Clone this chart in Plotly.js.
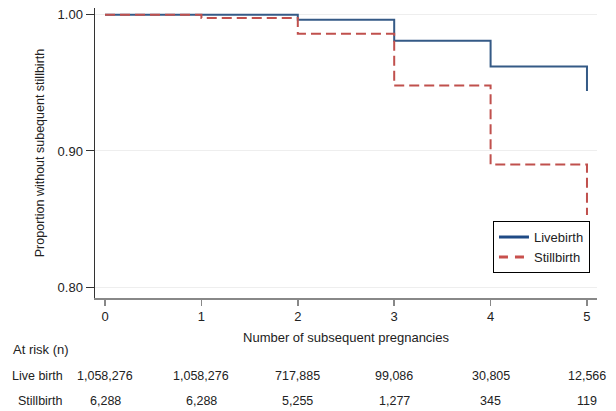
<!DOCTYPE html>
<html>
<head>
<meta charset="utf-8">
<script src="https://cdn.plot.ly/plotly-3.0.1.min.js"></script>
<style>html,body{margin:0;padding:0;background:#fff;}#chart{width:616px;height:411px;}</style>
</head>
<body>
<div id="chart"></div>
<script>
var pregnancies = [0, 1, 2, 3, 4, 5];
var liveBirthSurv = [1.000, 1.000, 0.9963, 0.981, 0.962, 0.944];
var stillBirthSurv = [1.000, 0.9976, 0.986, 0.948, 0.890, 0.853];
var atRiskLive = ["1,058,276", "1,058,276", "717,885", "99,086", "30,805", "12,566"];
var atRiskStill = ["6,288", "6,288", "5,255", "1,277", "345", "119"];
var yTicks = [0.80, 0.90, 1.00];
var yTickLabels = ["0.80", "0.90", "1.00"];

var font = "Liberation Sans, Arial, sans-serif";
var blue = "#355a86", red = "#c0504d";
var traces = [
  {x: pregnancies, y: liveBirthSurv, name: "Livebirth", mode: "lines", showlegend: false,
   line: {shape: "hv", color: blue, width: 2}},
  {x: pregnancies, y: stillBirthSurv, name: "Stillbirth", mode: "lines", showlegend: false,
   line: {shape: "hv", color: red, width: 2, dash: "10px,5px"}},
  {x: [null], y: [null], name: "Livebirth", mode: "lines", line: {color: "#1f4a85", width: 3}},
  {x: [null], y: [null], name: "Stillbirth", mode: "lines", line: {color: "#c8504d", width: 3, dash: "9px,7px"}}
];

var annotations = [
  {text: "At risk (n)", xref: "paper", yref: "paper", x: -0.167, y: -0.179, xanchor: "left", yanchor: "middle", showarrow: false, font: {size: 13, color: "#222", family: font}},
  {text: "Live birth", xref: "paper", yref: "paper", x: -0.060, y: -0.269, xanchor: "right", yanchor: "middle", showarrow: false, font: {size: 12.5, color: "#222", family: font}},
  {text: "Stillbirth", xref: "paper", yref: "paper", x: -0.060, y: -0.355, xanchor: "right", yanchor: "middle", showarrow: false, font: {size: 12.5, color: "#222", family: font}}
];
pregnancies.forEach(function (p, i) {
  annotations.push({text: atRiskLive[i], xref: "x", yref: "paper", x: p, y: -0.269, xanchor: "center", yanchor: "middle", showarrow: false, font: {size: 12.5, color: "#222", family: font}});
  annotations.push({text: atRiskStill[i], xref: "x", yref: "paper", x: p, y: -0.355, xanchor: "center", yanchor: "middle", showarrow: false, font: {size: 12.5, color: "#222", family: font}});
});

var layout = {
  width: 616, height: 411,
  margin: {l: 95, r: 19, t: 8, b: 113},
  paper_bgcolor: "#fff", plot_bgcolor: "#fff",
  font: {family: font, size: 13, color: "#222"},
  showlegend: true,
  legend: {x: 0.986, y: 0.086, xanchor: "right", yanchor: "bottom", bordercolor: "#000", borderwidth: 1, bgcolor: "#fff", font: {size: 13, family: font, color: "#222"}, tracegroupgap: 0, itemwidth: 30},
  xaxis: {
    range: [-0.104, 5.104], tickvals: pregnancies, ticktext: pregnancies.map(String),
    showgrid: false, zeroline: false, showline: true, linecolor: "#888", linewidth: 1.5,
    ticks: "outside", ticklen: 6, tickcolor: "#888", tickwidth: 1.5,
    tickfont: {size: 13, color: "#222"},
    title: {text: "Number of subsequent pregnancies", font: {size: 13, color: "#222"}, standoff: 10}
  },
  yaxis: {
    range: [0.792, 1.005], tickvals: yTicks, ticktext: yTickLabels,
    showgrid: true, gridcolor: "#eeeeee", gridwidth: 1, zeroline: false,
    showline: true, linecolor: "#333", linewidth: 1.5,
    ticks: "outside", ticklen: 8, tickcolor: "#333", tickwidth: 1,
    tickfont: {size: 13, color: "#222"},
    title: {text: "Proportion without subequent stillbirth", font: {size: 12.5, color: "#222"}, standoff: 10}
  },
  annotations: annotations
};

Plotly.newPlot("chart", traces, layout, {displayModeBar: false, staticPlot: true});
</script>
</body>
</html>
